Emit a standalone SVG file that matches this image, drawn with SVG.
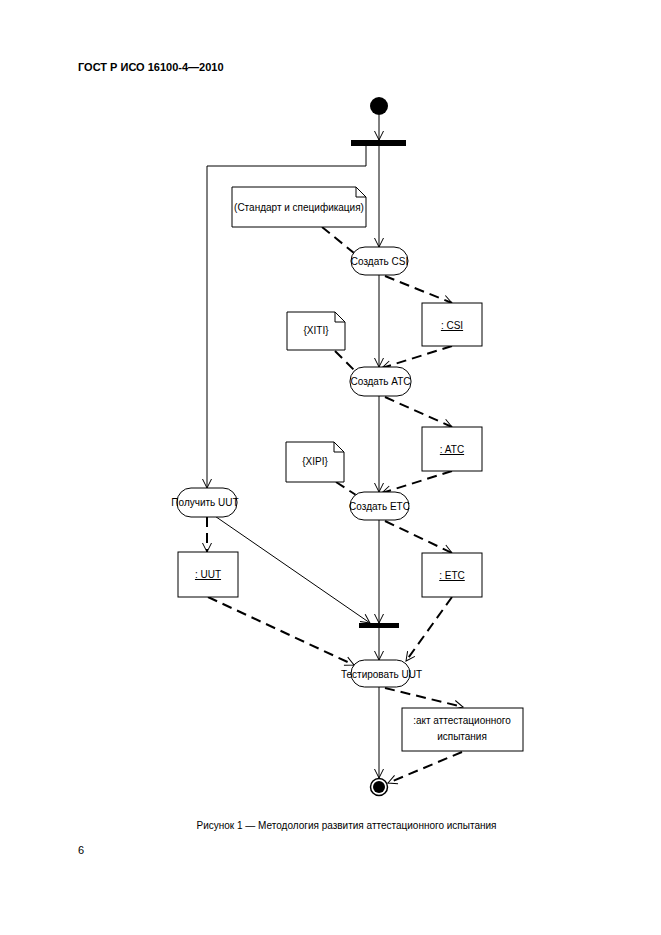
<svg xmlns="http://www.w3.org/2000/svg" width="661" height="935" viewBox="0 0 661 935">
<style>
text{font-family:"Liberation Sans",Arial,sans-serif;fill:#000}
.lbl{font-size:10px;text-anchor:middle}
.shape{fill:#fff;stroke:#000;stroke-width:1}
.sol{fill:none;stroke:#000;stroke-width:1}
.dash{fill:none;stroke:#000;stroke-width:2;stroke-dasharray:10 6}
.bar{fill:#000}
</style>
<defs>
<marker id="arr" viewBox="-11 -6 12 12" refX="0" refY="0" markerWidth="12" markerHeight="12" orient="auto" markerUnits="userSpaceOnUse">
<path d="M-9,-4.5 L0,0 L-9,4.5" fill="none" stroke="#000" stroke-width="1" stroke-dasharray="none"/>
</marker>
</defs>
<rect width="661" height="935" fill="#fff"/>
<text x="78" y="71" style="font-size:11px;font-weight:bold">ГОСТ Р ИСО 16100-4—2010</text>

<g id="connectors">
<line class="sol" x1="379" y1="115" x2="379" y2="140" marker-end="url(#arr)"/>
<polyline class="sol" points="366,146 366,166 207,166 207,488" marker-end="url(#arr)"/>
<line class="sol" x1="379" y1="146" x2="379" y2="247" marker-end="url(#arr)"/>
<line class="sol" x1="379" y1="275" x2="379" y2="367" marker-end="url(#arr)"/>
<line class="sol" x1="379" y1="396" x2="379" y2="492" marker-end="url(#arr)"/>
<line class="sol" x1="379" y1="520" x2="379" y2="623" marker-end="url(#arr)"/>
<line class="sol" x1="379" y1="628" x2="379" y2="660" marker-end="url(#arr)"/>
<line class="sol" x1="379" y1="687" x2="379" y2="778" marker-end="url(#arr)"/>
<line class="sol" x1="209" y1="512" x2="370" y2="623" marker-end="url(#arr)"/>
<line class="dash" x1="322" y1="227" x2="354" y2="253"/>
<line class="dash" x1="385" y1="276" x2="452" y2="303" marker-end="url(#arr)"/>
<line class="dash" x1="335" y1="351" x2="355" y2="371"/>
<line class="dash" x1="452" y1="346" x2="382" y2="368" marker-end="url(#arr)"/>
<line class="dash" x1="385" y1="397" x2="452" y2="427" marker-end="url(#arr)"/>
<line class="dash" x1="336" y1="482" x2="356" y2="495"/>
<line class="dash" x1="452" y1="471" x2="382" y2="493" marker-end="url(#arr)"/>
<line class="dash" x1="385" y1="521" x2="452" y2="553" marker-end="url(#arr)"/>
<line class="dash" x1="207" y1="517" x2="207" y2="552" marker-end="url(#arr)"/>
<line class="dash" x1="208" y1="597" x2="354" y2="665" marker-end="url(#arr)"/>
<line class="dash" x1="452" y1="597" x2="406" y2="661" marker-end="url(#arr)"/>
<line class="dash" x1="385" y1="688" x2="463" y2="707" marker-end="url(#arr)"/>
<line class="dash" x1="462" y1="752" x2="388" y2="783" marker-end="url(#arr)"/>
</g>

<g id="start"><circle cx="379" cy="106" r="9" fill="#000"/></g>
<g id="fork"><rect class="bar" x="351" y="140" width="55" height="6"/></g>

<g id="note-standard">
<path class="shape" d="M232,187 H356 L366,197 V227 H232 Z"/>
<path class="sol" d="M356,187 V197 H366"/>
<text class="lbl" x="299" y="211">(Стандарт и спецификация)</text>
</g>

<g id="create-csi">
<rect class="shape" x="351" y="247" width="57" height="28" rx="14"/>
<text class="lbl" x="379.5" y="265">Создать CSI</text>
</g>

<g id="obj-csi">
<rect class="shape" x="422" y="303" width="60" height="43"/>
<text class="lbl" x="452" y="329" text-decoration="underline">: CSI</text>
</g>

<g id="note-xiti">
<path class="shape" d="M287,312 H335 L345,322 V350 H287 Z"/>
<path class="sol" d="M335,312 V322 H345"/>
<text class="lbl" x="316" y="334">{XITI}</text>
</g>

<g id="create-atc">
<rect class="shape" x="350" y="367" width="61" height="29" rx="14"/>
<text class="lbl" x="380.5" y="385">Создать ATC</text>
</g>

<g id="obj-atc">
<rect class="shape" x="422" y="427" width="60" height="44"/>
<text class="lbl" x="452" y="453" text-decoration="underline">: ATC</text>
</g>

<g id="note-xipi">
<path class="shape" d="M286,442 H334 L344,452 V482 H286 Z"/>
<path class="sol" d="M334,442 V452 H344"/>
<text class="lbl" x="315" y="465">{XIPI}</text>
</g>

<g id="create-etc">
<rect class="shape" x="350" y="492" width="59" height="28" rx="14"/>
<text class="lbl" x="379.5" y="510">Создать ETC</text>
</g>

<g id="obj-etc">
<rect class="shape" x="422" y="553" width="60" height="44"/>
<text class="lbl" x="452" y="579" text-decoration="underline">: ETC</text>
</g>

<g id="get-uut">
<rect class="shape" x="177" y="488" width="60" height="29" rx="14"/>
<text class="lbl" x="205" y="506">Получить UUT</text>
</g>

<g id="obj-uut">
<rect class="shape" x="178" y="552" width="60" height="45"/>
<text class="lbl" x="208" y="578" text-decoration="underline">: UUT</text>
</g>

<g id="join"><rect class="bar" x="359" y="623" width="40" height="5"/></g>

<g id="test-uut">
<rect class="shape" x="351" y="660" width="59" height="27" rx="13.5"/>
<text class="lbl" x="381.5" y="678">Тестировать UUT</text>
</g>

<g id="obj-act">
<rect class="shape" x="402" y="708" width="121" height="43"/>
<text class="lbl" x="462" y="724">:акт аттестационного</text>
<text class="lbl" x="462" y="740">испытания</text>
</g>

<g id="end">
<circle cx="379" cy="787" r="8.5" fill="#fff" stroke="#000" stroke-width="1.5"/>
<circle cx="379" cy="787" r="6" fill="#000"/>
</g>

<text x="346.5" y="829" style="font-size:10px;text-anchor:middle">Рисунок 1 — Методология развития аттестационного испытания</text>
<text x="78" y="854" style="font-size:11px">6</text>
</svg>
